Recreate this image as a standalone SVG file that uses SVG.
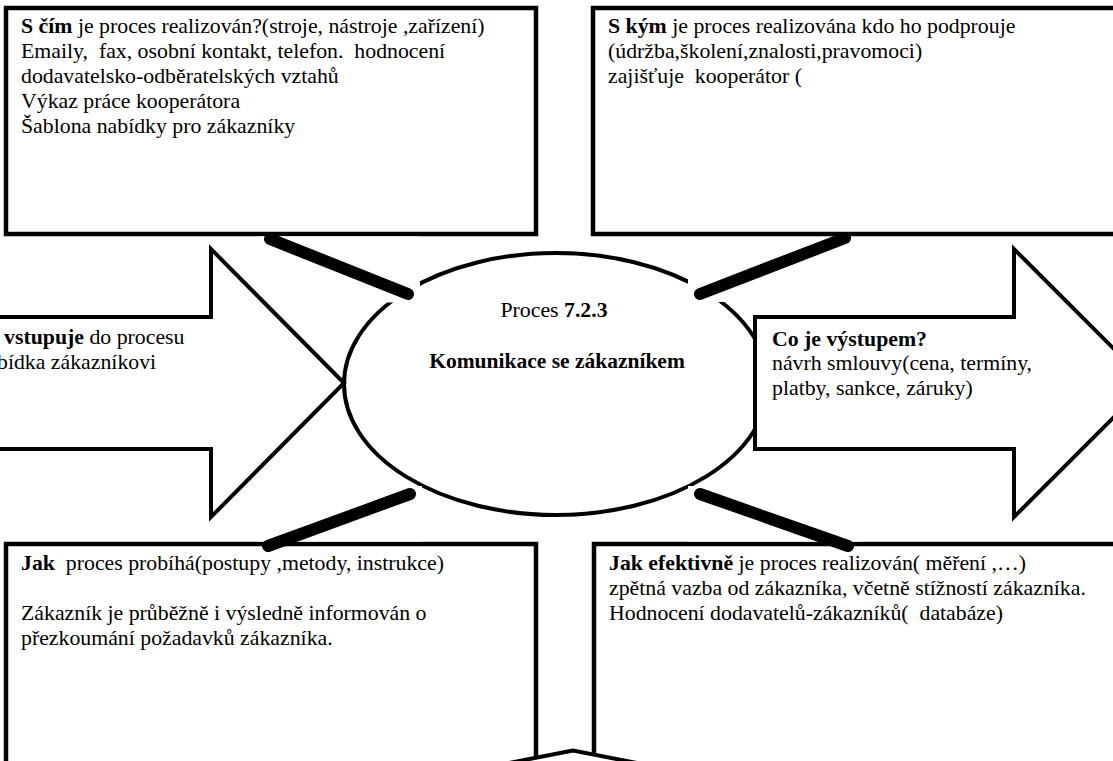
<svg xmlns="http://www.w3.org/2000/svg" width="1113" height="761" viewBox="0 0 1113 761">
<style>
.box{fill:#fff;stroke:#000;stroke-width:4.5}
.shape{fill:#fff;stroke:#000;stroke-width:4}
.t{font-family:'Liberation Serif','Times New Roman',serif;font-size:21.8px;fill:#000;white-space:pre}
.b{font-weight:bold}
.thick{stroke:#000;stroke-width:12;stroke-linecap:round;fill:none}
.mask{fill:#fff;stroke:none}
</style>
<rect x="0" y="0" width="1113" height="761" fill="#fff"/>
<g id="ellipse-node">
<ellipse class="shape" cx="556" cy="384" rx="212" ry="131"/>
<text class="t" x="554" y="317" text-anchor="middle">Proces <tspan class="b">7.2.3</tspan></text>
<text class="t b" x="557" y="368" text-anchor="middle" style="font-size:21.5px">Komunikace se zákazníkem</text>
</g>
<g id="connectors">
<g id="conn-tr">
<rect class="mask" x="688" y="231" width="170" height="71"/>
<line class="thick" x1="700" y1="294" x2="845" y2="238"/>
</g>
</g>
<g id="box-top-left">
<rect class="box" x="6" y="8" width="530" height="226"/>
<text class="t" x="21" y="33"><tspan class="b">S čím</tspan> je proces realizován?(stroje, nástroje ,zařízení)</text>
<text class="t" x="21" y="58">Emaily,  fax, osobní kontakt, telefon.  hodnocení</text>
<text class="t" x="21" y="83">dodavatelsko-odběratelských vztahů</text>
<text class="t" x="21" y="108">Výkaz práce kooperátora</text>
<text class="t" x="21" y="133">Šablona nabídky pro zákazníky</text>
</g>
<g id="box-top-right">
<rect class="box" x="593" y="8" width="540" height="226"/>
<text class="t" x="608" y="33"><tspan class="b">S kým</tspan> je proces realizována kdo ho podprouje</text>
<text class="t" x="608" y="58">(údržba,školení,znalosti,pravomoci)</text>
<text class="t" x="608" y="83">zajišťuje  kooperátor (</text>
</g>
<g id="box-bottom-left">
<rect class="box" x="6" y="544" width="530" height="240"/>
<text class="t" x="21" y="570"><tspan class="b">Jak</tspan>  proces probíhá(postupy ,metody, instrukce)</text>
<text class="t" x="21" y="620">Zákazník je průběžně i výsledně informován o</text>
<text class="t" x="21" y="645">přezkoumání požadavků zákazníka.</text>
</g>
<g id="box-bottom-right">
<rect class="box" x="594" y="544" width="540" height="240"/>
<text class="t" x="609" y="570"><tspan class="b">Jak efektivně</tspan> je proces realizován( měření ,…)</text>
<text class="t" x="609" y="595">zpětná vazba od zákazníka, včetně stížností zákazníka.</text>
<text class="t" x="609" y="620">Hodnocení dodavatelů-zákazníků(  databáze)</text>
</g>
<g id="connectors-2">
<g id="conn-tl">
<rect class="mask" x="258" y="236.5" width="162" height="66"/>
<line class="thick" x1="270" y1="239" x2="408" y2="294"/>
</g>
<g id="conn-bl">
<rect class="mask" x="258" y="486" width="164" height="55.5"/>
<line class="thick" x1="268" y1="546" x2="410" y2="494"/>
</g>
<g id="conn-br">
<rect class="mask" x="688" y="486" width="174" height="55.5"/>
<line class="thick" x1="700" y1="494" x2="848" y2="546"/>
</g>
</g>
<g id="arrow-in">
<polygon class="shape" points="-10,317 211,317 211,249 344,383 211,517 211,449 -10,449"/>
<text class="t" x="4" y="344"><tspan class="b">vstupuje</tspan> do procesu</text>
<text class="t" x="-3" y="369">bídka zákazníkovi</text>
</g>
<g id="arrow-out">
<polygon class="shape" points="755,317 1014,317 1014,249 1148,383 1014,517 1014,449 755,449"/>
<text class="t b" x="772" y="346">Co je výstupem?</text>
<text class="t" x="772" y="370">návrh smlouvy(cena, termíny,</text>
<text class="t" x="772" y="395">platby, sankce, záruky)</text>
</g>
<g id="arrow-bottom">
<polygon class="shape" points="573,750.5 417,781 729,781"/>
</g>
</svg>
